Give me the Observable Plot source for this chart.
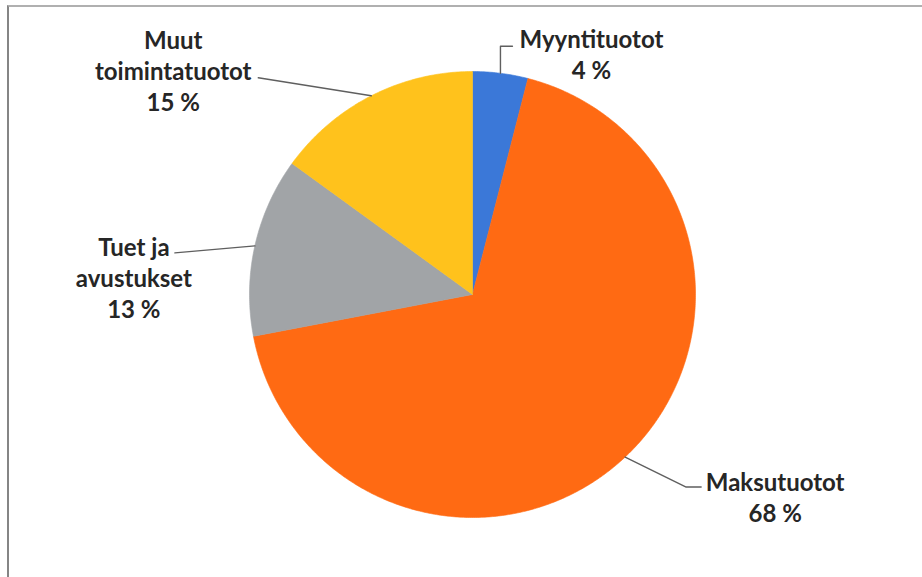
<!DOCTYPE html>
<html>
<head>
<meta charset="utf-8">
<script src="https://cdn.jsdelivr.net/npm/d3@7"></script>
<script src="https://cdn.jsdelivr.net/npm/@observablehq/plot@0.6"></script>
<style>
  body { margin: 0; background: #fff; }
  #wrap { position: relative; width: 922px; height: 577px; overflow: hidden; background: #fff; }
  #frame { position: absolute; left: 7px; top: 5px; right: -4px; bottom: -4px;
           border-top: 2px solid #b0b0b0; border-left: 2px solid #858585; pointer-events: none; }
  #wrap svg { position: absolute; left: 0; top: 0; }
</style>
</head>
<body>
<div id="wrap"><div id="frame"></div></div>
<script>
// ---- data ----
const categories = ["Myyntituotot", "Maksutuotot", "Tuet ja avustukset", "Muut toimintatuotot"];
const shares = [4, 68, 13, 15];
const labelNames = ["Myyntituotot", "Maksutuotot", "Tuet ja\navustukset", "Muut\ntoimintatuotot"];
const colors = ["#3b78d8", "#ff6a13", "#a1a4a7", "#ffc21c"];

// ---- layout (pixels) ----
const W = 922, H = 577, CX = 472, CY = 294, R = 223;
const FS = 24, LINE = 31;
// leader polyline offsets from the slice's rim point, and label centre offset (dx right, dy down)
const layout = [
  { leader: [[0, 0], [0, -27], [12, -27]], text: [91, -20] },
  { leader: [[0, 0], [61, 30], [76, 30]], text: [150, 39.5] },
  { leader: [[0, 0], [-80, 7]], text: [-121, 31] },
  { leader: [[0, 0], [-113, -18]], text: [-198, -25.7] }
];

const table = categories.map((name, i) => ({ name, value: shares[i], label: labelNames[i] }));
const arcs = d3.pie().sort(null).value(d => d.value).startAngle(0).endAngle(2 * Math.PI)(table);

const slicePts = [];
arcs.forEach(a => {
  const n = Math.max(2, Math.ceil((a.endAngle - a.startAngle) / (Math.PI / 360)));
  slicePts.push({ name: a.data.name, x: 0, y: 0 });
  for (let k = 0; k <= n; k++) {
    const t = a.startAngle + (a.endAngle - a.startAngle) * k / n;
    slicePts.push({ name: a.data.name, x: R * Math.sin(t), y: R * Math.cos(t) });
  }
  slicePts.push({ name: a.data.name, x: 0, y: 0 });
});

const leaderPts = [];
const labels = [];
arcs.forEach((a, i) => {
  const m = (a.startAngle + a.endAngle) / 2;
  const rx = R * Math.sin(m), ry = R * Math.cos(m);
  layout[i].leader.forEach(([dx, dy]) => leaderPts.push({ name: a.data.name, x: rx + dx, y: ry - dy }));
  labels.push({
    x: rx + layout[i].text[0],
    y: ry - layout[i].text[1],
    text: a.data.label + "\n" + a.data.value + " %"
  });
});

const chart = Plot.plot({
  width: W,
  height: H,
  margin: 0,
  style: { background: "transparent", overflow: "visible" },
  x: { domain: [-R, R], range: [CX - R, CX + R], axis: null },
  y: { domain: [-R, R], range: [CY + R, CY - R], axis: null },
  color: { domain: categories, range: colors },
  marks: [
    Plot.line(slicePts, { x: "x", y: "y", z: "name", fill: "name", stroke: "name", strokeWidth: 0.6, curve: "linear" }),
    Plot.line(leaderPts, { x: "x", y: "y", z: "name", stroke: "#5f5f5f", strokeWidth: 1.4, curve: "linear" }),
    Plot.text(labels, {
      x: "x", y: "y", text: "text",
      fontSize: FS, fontWeight: 700, fontFamily: "Lato, 'Open Sans', sans-serif",
      fill: "#262626", lineHeight: LINE / FS, textAnchor: "middle", lineAnchor: "middle"
    })
  ]
});
document.getElementById("wrap").prepend(chart);
</script>
</body>
</html>
